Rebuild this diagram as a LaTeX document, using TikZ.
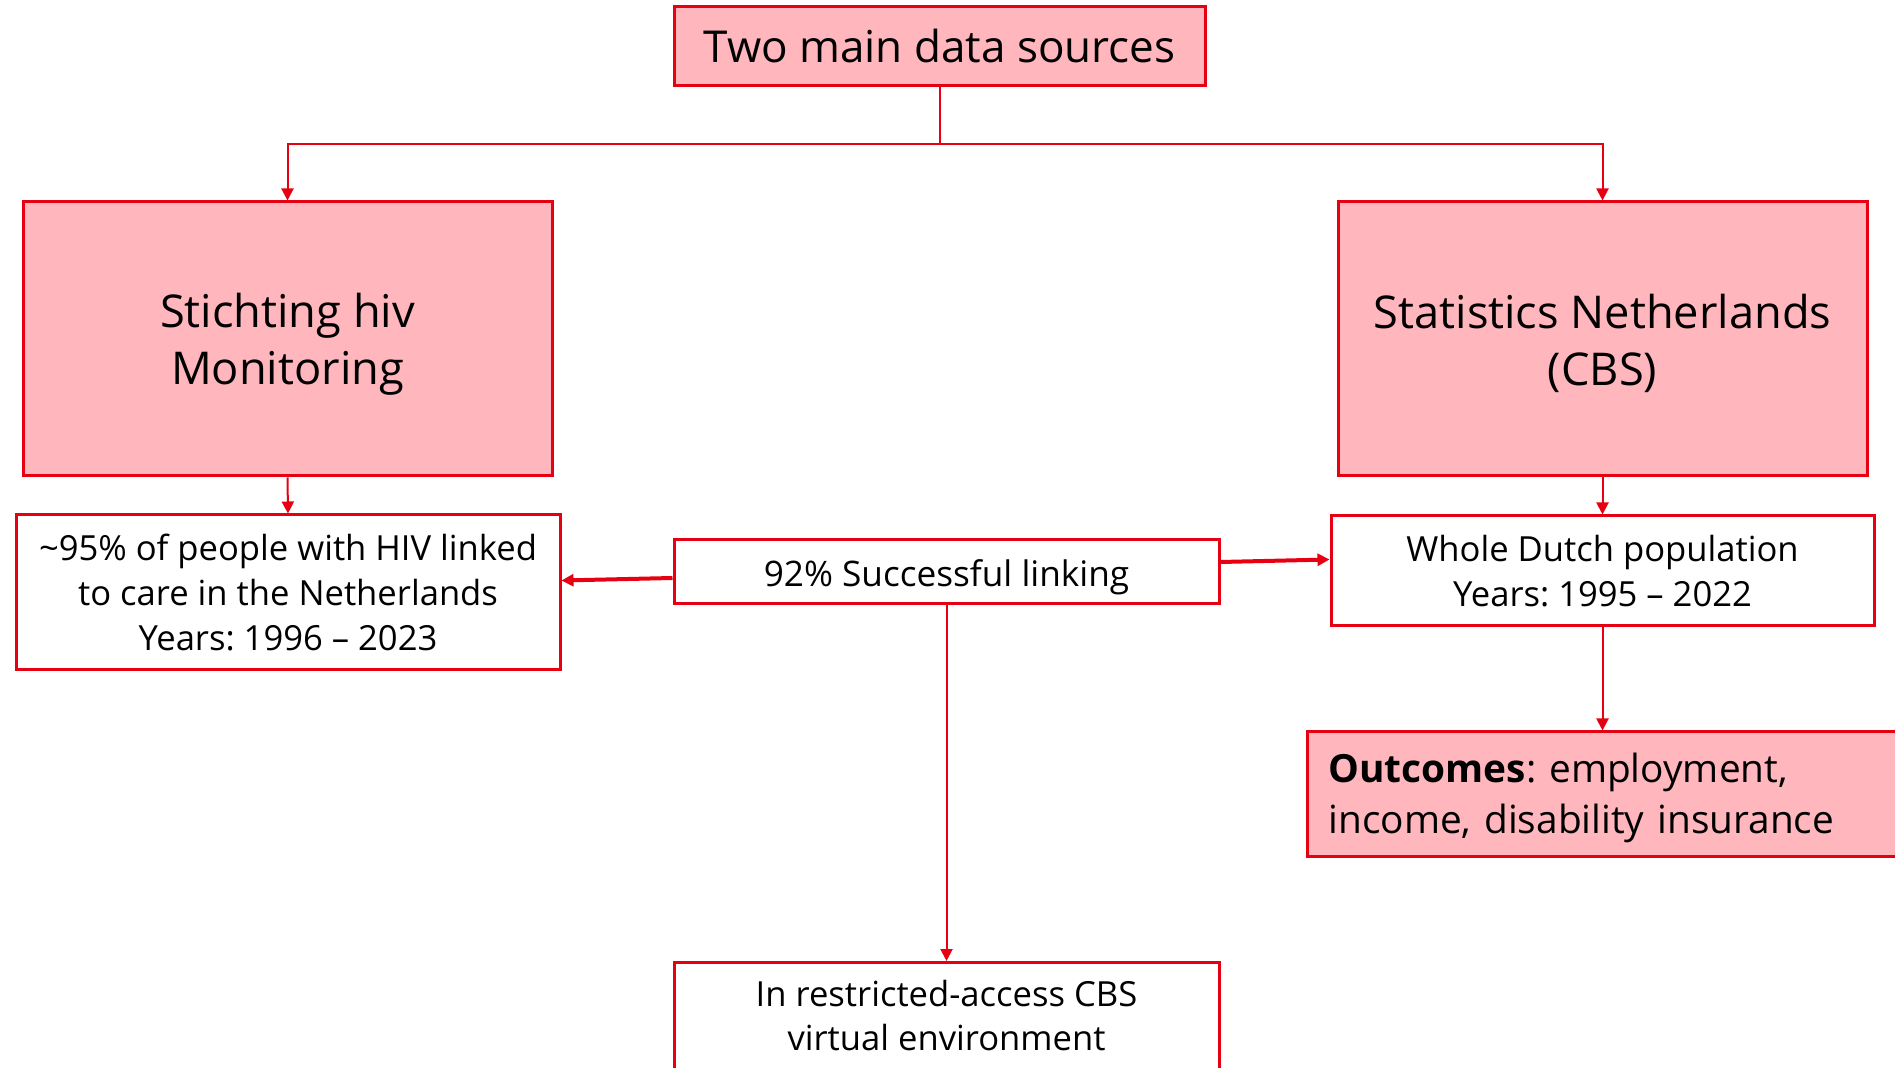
\documentclass[tikz,border=0pt]{standalone}
\usepackage{fontspec}
\setmainfont{Open Sans}
\usetikzlibrary{arrows.meta}
\definecolor{rd}{RGB}{230,0,18}
\definecolor{pk}{RGB}{255,182,189}
\begin{document}
\frenchspacing
\begin{tikzpicture}[x=0.5pt,y=-0.5pt,
  pinkbox/.style={draw=rd, fill=pk, line width=1.5pt, align=center, inner sep=0pt},
  whitebox/.style={draw=rd, fill=white, line width=1.5pt, align=center, inner sep=0pt},
  conn/.style={draw=rd, line width=1pt, -{Triangle[length=6pt,width=6pt]}},
  sideconn/.style={draw=rd, line width=2pt, -{Triangle[length=6pt,width=6pt]}}]
\useasboundingbox (0,0) rectangle (1895,1068);
\fill[white] (0,0) rectangle (1895,1068);

\node[pinkbox, minimum width=265.5pt, minimum height=39.5pt, font=\fontsize{22}{26}\selectfont] (top) at (939.5,46.5) {Two main data sources};

\node[pinkbox, minimum width=264.5pt, minimum height=137pt, font=\fontsize{22.6}{28.5}\selectfont] (shm) at (287.5,339) {\rule{0pt}{22pt}Stichting hiv\\Monitoring};
\node[pinkbox, minimum width=264.5pt, minimum height=137pt, font=\fontsize{22.6}{28.5}\selectfont] (cbs) at (1602.5,339) {\rule{0pt}{22pt}Statistics Netherlands\\(CBS)};

\node[whitebox, minimum width=272pt, minimum height=77.5pt, font=\fontsize{17.3}{22.3}\selectfont] (hiv) at (288,592.5) {\textasciitilde95\% of people with HIV linked\\to care in the Netherlands\\Years: 1996 -- 2023};

\node[whitebox, minimum width=272.5pt, minimum height=32pt, font=\fontsize{17.6}{20}\selectfont] (link) at (946.5,572) {\raisebox{-2.4pt}[\height][\depth]{92\% Successful linking}};

\node[whitebox, minimum width=271.5pt, minimum height=55pt, font=\fontsize{17.3}{22.3}\selectfont] (pop) at (1602.5,571) {Whole Dutch population\\Years: 1995 -- 2022};

\node[pinkbox, anchor=west, minimum width=310pt, minimum height=62pt, text width=289.5pt, inner xsep=10.5pt, align=left, font=\fontsize{19.4}{25.5}\selectfont] (out) at (1306,794) {\rule{0pt}{18.3pt}\textbf{Outcomes}: employment,\\income, disability insurance};

\node[whitebox, anchor=north, minimum width=272.5pt, minimum height=80pt] (env) at (946.5,961) {};
\node[align=center, font=\fontsize{17.3}{22.3}\selectfont, anchor=north] (envtext) at ([yshift=-6pt]env.north) {In restricted-access CBS\\virtual environment};

\draw[conn] (top.south) -- (top.south |- 0,144) -| (shm.north);
\draw[conn] (top.south |- 0,144) -| (cbs.north);
\draw[conn] (shm.south) -- (hiv.north);
\draw[conn] (cbs.south) -- (pop.north);
\draw[conn] (pop.south) -- (pop.south |- out.north);
\draw[conn] (link.south) -- (env.north);
\draw[sideconn] ([yshift=-3pt]link.west) -- ([yshift=6pt]hiv.east);
\draw[sideconn] ([yshift=5pt]link.east) -- ([yshift=5.75pt]pop.west);
\end{tikzpicture}
\end{document}
